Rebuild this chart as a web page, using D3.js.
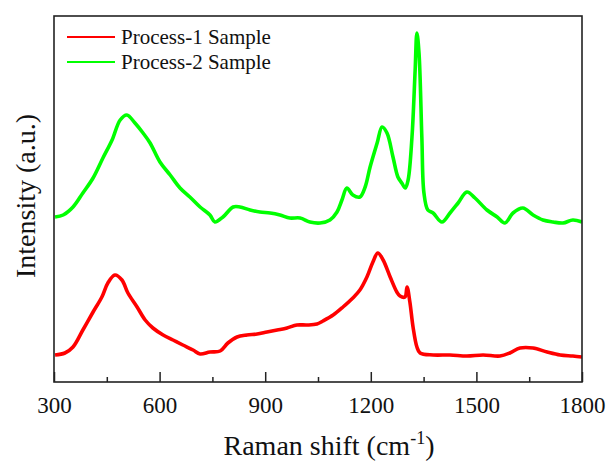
<!DOCTYPE html>
<html>
<head>
<meta charset="utf-8">
<script src="https://cdn.jsdelivr.net/npm/d3@7"></script>
<style>
  body { margin: 0; background: #fff; }
  text { font-family: "Liberation Serif", "Times New Roman", serif; fill: #111; }
</style>
</head>
<body>
<svg class="chart"></svg>
<script>
// Raman spectra (intensity in arbitrary units)
var shift1 = [303, 331, 354, 382, 411, 436, 453, 473, 493, 510, 536, 559, 581, 610, 638, 666, 695, 715, 743, 772, 794, 820, 848, 877, 905, 934, 962, 990, 1019, 1047, 1064, 1093, 1121, 1149, 1169, 1189, 1206, 1220, 1235, 1255, 1274, 1283, 1297, 1303, 1311, 1320, 1331, 1340, 1377, 1425, 1473, 1519, 1567, 1595, 1624, 1661, 1701, 1738, 1774, 1800]
var int1 = [27, 29, 35, 52, 70, 85, 99, 107, 102, 89, 75, 62, 54, 47, 42, 37, 32, 28, 30, 31, 39, 45, 47, 48, 50, 52, 54, 57, 57, 58, 61, 67, 75, 84, 92, 105, 120, 129, 122, 105, 90, 86, 85, 95, 80, 55, 35, 29, 27, 27, 26, 27, 26, 29, 34, 34, 30, 27, 26, 25]

var shift2 = [303, 326, 354, 382, 411, 439, 465, 488, 507, 530, 553, 573, 601, 630, 658, 686, 715, 743, 757, 780, 809, 828, 857, 885, 914, 942, 970, 999, 1027, 1056, 1084, 1104, 1118, 1132, 1149, 1169, 1184, 1198, 1218, 1232, 1246, 1263, 1277, 1288, 1298, 1306, 1317, 1326, 1331, 1337, 1345, 1351, 1362, 1377, 1402, 1425, 1448, 1473, 1496, 1530, 1559, 1581, 1604, 1632, 1661, 1689, 1718, 1746, 1774, 1800]
var int2 = [165, 167, 175, 189, 204, 224, 242, 262, 267, 259, 249, 239, 220, 207, 194, 185, 175, 167, 160, 165, 175, 175, 172, 170, 169, 167, 164, 164, 160, 159, 162, 170, 182, 194, 187, 185, 195, 215, 239, 255, 249, 225, 205, 199, 194, 202, 245, 312, 349, 329, 245, 189, 172, 169, 160, 169, 179, 190, 184, 172, 165, 159, 169, 174, 167, 162, 160, 159, 162, 160]

var names = ["Process-1 Sample", "Process-2 Sample"]
var colors = ["#ff0000", "#00ff00"]
var majorTicks = [300, 600, 900, 1200, 1500, 1800]
var minorTicks = [450, 750, 1050, 1350, 1650]

var width = 608;
var height = 463;
// plot box (named so they don't clash with window.top)
var padL = 54, padR = 582, padT = 16, padB = 382;

var x = d3.scaleLinear()
            .domain([300, 1800])
            .range([padL, padR]);
var y = d3.scaleLinear()
            .domain([0, 366])
            .range([padB, padT]);

var svg = d3.select(".chart")
            .attr("width", width)
            .attr("height", height)

svg.append("clipPath")
    .attr("id", "plot")
    .append("rect")
    .attr("x", padL)
    .attr("y", padT)
    .attr("width", padR - padL)
    .attr("height", padB - padT);

var series = [
    d3.zip(shift1, int1),
    d3.zip(shift2, int2)
];

var line = d3.line()
            .x(function(d) { return x(d[0]); })
            .y(function(d) { return y(d[1]); })
            .curve(d3.curveCatmullRom.alpha(0.5));

svg.selectAll(".spectrum")
    .data(series)
    .enter()
    .append("path")
    .attr("class", "spectrum")
    .attr("clip-path", "url(#plot)")
    .attr("d", line)
    .attr("fill", "none")
    .attr("stroke", function(d, i) { return colors[i]; })
    .attr("stroke-width", 3.6)
    .attr("stroke-linejoin", "round");

// bottom axis, ticks pointing into the plot
var xAxis = d3.axisBottom(x)
                .tickValues(majorTicks)
                .tickFormat(d3.format("d"))
                .tickSizeInner(-10)
                .tickSizeOuter(0)
                .tickPadding(15);

var gx = svg.append("g")
    .attr("transform", "translate(0," + padB + ")")
    .call(xAxis);
gx.select(".domain").remove();
gx.selectAll("line").attr("stroke", "#222").attr("stroke-width", 1.5);
gx.selectAll("text")
    .style("font-family", "Liberation Serif, Times New Roman, serif")
    .style("font-size", "23px")
    .attr("fill", "#111");

var xMinor = d3.axisBottom(x)
                .tickValues(minorTicks)
                .tickFormat("")
                .tickSizeInner(-5)
                .tickSizeOuter(0);

var gm = svg.append("g")
    .attr("transform", "translate(0," + padB + ")")
    .call(xMinor);
gm.select(".domain").remove();
gm.selectAll("line").attr("stroke", "#222").attr("stroke-width", 1.5);

// frame
svg.append("rect")
    .attr("x", padL)
    .attr("y", padT)
    .attr("width", padR - padL)
    .attr("height", padB - padT)
    .attr("fill", "none")
    .attr("stroke", "#222")
    .attr("stroke-width", 1.6);

// legend
var legend = svg.selectAll(".legend")
                .data(names)
                .enter()
                .append("g")
                .attr("class", "legend")
                .attr("transform", function(d, i) {
                    return "translate(67," + (37 + i * 25) + ")";
                });

legend.append("line")
    .attr("x1", 0)
    .attr("x2", 48)
    .attr("stroke", function(d, i) { return colors[i]; })
    .attr("stroke-width", 2.2);

legend.append("text")
    .attr("x", 54)
    .attr("y", 7)
    .style("font-size", "21px")
    .text(function(d) { return d; });

// axis titles
var xt = svg.append("text")
    .attr("x", 329)
    .attr("y", 455)
    .attr("text-anchor", "middle")
    .style("font-size", "28px")
    .text("Raman shift (cm");
xt.append("tspan")
    .attr("dy", "-11")
    .style("font-size", "18px")
    .text("-1");
xt.append("tspan")
    .attr("dy", "11")
    .text(")");

svg.append("text")
    .attr("transform", "translate(35,196) rotate(-90)")
    .attr("text-anchor", "middle")
    .style("font-size", "28px")
    .text("Intensity (a.u.)");
</script>
</body>
</html>
